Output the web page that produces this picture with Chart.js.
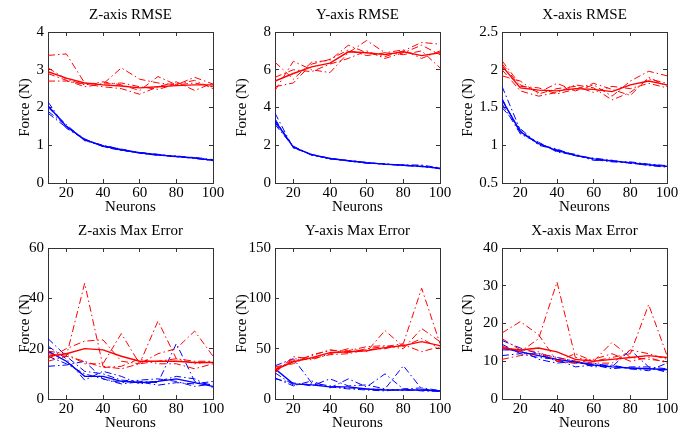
<!DOCTYPE html>
<html>
<head>
<meta charset="utf-8">
<script src="https://cdn.jsdelivr.net/npm/chart.js@4"></script>
<style>
  body { margin: 0; background: #fff; width: 690px; height: 432px; position: relative; overflow: hidden; }
  canvas { position: absolute; }
</style>
</head>
<body>
<script>
// x values and ticks shared by every panel
const neurons = [10, 20, 30, 40, 50, 60, 70, 80, 90, 100];
const xTicks = [20, 40, 60, 80, 100];

// Z-axis RMSE (first row of each set is the solid line, rest dash-dot)
const zRmseTicks = [0, 1, 2, 3, 4];
const zRmseRed = [
  [2.95, 2.78, 2.65, 2.6, 2.57, 2.52, 2.55, 2.58, 2.6, 2.6],
  [3.38, 3.42, 2.65, 2.62, 3.05, 2.75, 2.65, 2.6, 2.8, 2.62],
  [3.05, 2.75, 2.6, 2.68, 2.6, 2.45, 2.82, 2.6, 2.65, 2.55],
  [2.7, 2.7, 2.62, 2.55, 2.5, 2.35, 2.55, 2.68, 2.45, 2.65],
  [2.9, 2.72, 2.55, 2.62, 2.65, 2.55, 2.48, 2.62, 2.72, 2.5]
];
const zRmseBlue = [
  [2.05, 1.5, 1.15, 0.98, 0.88, 0.8, 0.75, 0.7, 0.66, 0.6],
  [2.15, 1.45, 1.15, 0.97, 0.87, 0.79, 0.74, 0.71, 0.67, 0.6],
  [1.9, 1.52, 1.13, 1.0, 0.89, 0.8, 0.74, 0.69, 0.68, 0.62],
  [1.85, 1.47, 1.17, 0.96, 0.86, 0.81, 0.76, 0.7, 0.65, 0.59],
  [2.0, 1.55, 1.12, 0.99, 0.9, 0.79, 0.73, 0.72, 0.66, 0.61]
];

// Y-axis RMSE
const yRmseTicks = [0, 2, 4, 6, 8];
const yRmseRed = [
  [5.4, 5.8, 6.15, 6.35, 6.95, 6.9, 6.8, 6.95, 6.75, 6.9],
  [6.4, 5.5, 6.4, 6.5, 7.3, 6.9, 6.7, 7.0, 7.45, 7.35],
  [4.9, 6.45, 6.0, 5.85, 6.9, 7.55, 6.9, 6.8, 7.0, 6.1],
  [5.1, 5.3, 6.3, 6.55, 7.05, 6.75, 6.9, 7.05, 6.6, 7.0],
  [5.6, 6.0, 5.9, 6.3, 6.6, 7.0, 6.6, 6.9, 7.3, 6.8]
];
const yRmseBlue = [
  [3.3, 1.9, 1.5, 1.3, 1.18, 1.07, 1.0, 0.94, 0.88, 0.78],
  [3.7, 1.85, 1.52, 1.28, 1.2, 1.08, 0.98, 0.96, 0.95, 0.8],
  [3.2, 1.95, 1.48, 1.32, 1.16, 1.06, 1.01, 0.92, 0.9, 0.76],
  [3.4, 1.88, 1.5, 1.27, 1.19, 1.09, 0.99, 0.95, 0.86, 0.79],
  [3.1, 1.92, 1.47, 1.3, 1.17, 1.05, 1.02, 0.93, 0.89, 0.75]
];

// X-axis RMSE
const xRmseTicks = [0.5, 1, 1.5, 2, 2.5];
const xRmseRed = [
  [2.05, 1.76, 1.73, 1.72, 1.75, 1.74, 1.71, 1.8, 1.85, 1.8],
  [2.12, 1.8, 1.7, 1.82, 1.72, 1.8, 1.65, 1.85, 1.98, 1.92],
  [1.92, 1.85, 1.68, 1.75, 1.78, 1.7, 1.78, 1.75, 1.82, 1.76],
  [2.0, 1.72, 1.65, 1.7, 1.8, 1.76, 1.6, 1.7, 1.88, 1.82],
  [2.08, 1.78, 1.76, 1.68, 1.74, 1.82, 1.74, 1.66, 1.9, 1.78]
];
const xRmseBlue = [
  [1.6, 1.18, 1.02, 0.93, 0.87, 0.82, 0.79, 0.77, 0.74, 0.72],
  [1.78, 1.2, 1.0, 0.94, 0.86, 0.83, 0.8, 0.76, 0.75, 0.72],
  [1.55, 1.15, 1.03, 0.92, 0.88, 0.81, 0.78, 0.77, 0.73, 0.71],
  [1.5, 1.22, 1.01, 0.95, 0.86, 0.82, 0.79, 0.78, 0.75, 0.73],
  [1.62, 1.16, 1.04, 0.91, 0.87, 0.8, 0.8, 0.76, 0.74, 0.72]
];

// Z-axis Max Error
const zMaxTicks = [0, 20, 40, 60];
const zMaxRed = [
  [17, 18, 20, 19.5, 17, 15, 15, 15, 14.5, 14.5],
  [18, 17, 46, 13, 12, 14, 15, 16, 15, 15],
  [16, 20, 23, 23.5, 15, 14, 31, 16, 14, 15],
  [19, 18, 14, 14, 26, 14, 18, 20, 27, 17],
  [15, 17, 15, 12.5, 13, 16, 14, 14, 12, 14]
];
const zMaxBlue = [
  [19, 15, 9, 9, 7, 6.5, 7, 8, 6.5, 5],
  [24, 17, 11, 10, 7.5, 7, 6.5, 22, 7, 5.5],
  [13, 13.5, 15, 8, 6.5, 7.5, 8, 7, 5, 6],
  [21, 16, 7.5, 11, 9, 6, 7, 9, 8, 4.5],
  [17, 14, 10, 8, 6, 6.8, 5.5, 6.5, 6, 7]
];

// Y-axis Max Error
const yMaxTicks = [0, 50, 100, 150];
const yMaxRed = [
  [29, 37, 41, 46, 47, 48, 51, 53, 57, 53],
  [30, 38, 43, 49, 46, 50, 52, 55, 110, 55],
  [27, 40, 39, 45, 50, 47, 68, 52, 60, 50],
  [32, 35, 44, 48, 48, 52, 53, 50, 70, 57],
  [26, 42, 40, 44, 45, 49, 50, 54, 47, 52]
];
const yMaxBlue = [
  [30, 15, 14, 12, 12, 10, 9, 9, 9, 8],
  [33, 40, 16, 13, 11, 10, 9.5, 8.5, 9, 8],
  [21, 13, 18, 11, 20, 12, 25, 10, 8, 7.5],
  [20, 16, 13, 20, 13, 14, 10, 33, 10, 8],
  [26, 14, 15, 12, 10, 9, 8, 10, 11, 8.5]
];

// X-axis Max Error
const xMaxTicks = [0, 10, 20, 30, 40];
const xMaxRed = [
  [13.5, 13, 13.5, 12.5, 10.5, 10, 10.5, 11, 11.5, 11],
  [14, 12.5, 16, 31, 11, 10, 11, 12, 25, 11.5],
  [17.5, 20.5, 17, 10, 12, 10, 15, 11, 10.5, 10],
  [10.5, 11.5, 12, 11, 10, 9.5, 9.5, 13, 12, 10.5],
  [16, 13, 12.5, 10, 9.5, 10.5, 12, 10, 11, 9.5]
];
const xMaxBlue = [
  [13.5, 12.5, 11.5, 10.5, 9.8, 9, 8.5, 8.2, 8, 7.8],
  [15.5, 13.5, 12, 10, 9.5, 9.5, 8.5, 13, 8.5, 8],
  [11.5, 12, 11, 10.5, 8.5, 9, 9, 8, 7.5, 9.5],
  [14.5, 12, 12, 11, 10, 9, 8, 8.5, 8.5, 7],
  [13, 13, 10.5, 9.5, 10, 8.5, 8.8, 8, 8, 7.5]
];

const panels = [
  { title: 'Z-axis RMSE', red: zRmseRed, blue: zRmseBlue, yTicks: zRmseTicks, left: 48, top: 32, yPad: 16 },
  { title: 'Y-axis RMSE', red: yRmseRed, blue: yRmseBlue, yTicks: yRmseTicks, left: 275, top: 32, yPad: 6 },
  { title: 'X-axis RMSE', red: xRmseRed, blue: xRmseBlue, yTicks: xRmseTicks, left: 502, top: 32, yPad: 5 },
  { title: 'Z-axis Max Error', red: zMaxRed, blue: zMaxBlue, yTicks: zMaxTicks, left: 48, top: 248, yPad: 16 },
  { title: 'Y-axis Max Error', red: yMaxRed, blue: yMaxBlue, yTicks: yMaxTicks, left: 275, top: 248, yPad: 6 },
  { title: 'X-axis Max Error', red: xMaxRed, blue: xMaxBlue, yTicks: xMaxTicks, left: 502, top: 248, yPad: 5 }
];

// the canvas is symmetric around the plot so the title lands over its middle
const AXIS_W = 48, AXIS_H = 35, PLOT_W = 165, PLOT_H = 151;
const FONT = { family: '"Liberation Serif", "Times New Roman", serif', size: 15, weight: 'normal' };
const INK = '#000';

const fixTicks = list => scale => { scale.ticks = list.map(v => ({ value: v })); };

const lineSet = (vals, color, i) => ({
  data: vals.map((y, k) => ({ x: neurons[k], y: y })),
  borderColor: color,
  borderWidth: i === 0 ? 1.4 : 1,
  borderDash: i === 0 ? [] : [7, 3, 1.5, 3],
  pointRadius: 0,
  fill: false,
  tension: 0
});

const frameGrid = { drawOnChartArea: false, drawTicks: true, tickLength: -4, color: '#333' };
const frameBorder = { display: true, color: '#333', width: 1 };

panels.forEach(p => {
  const canvas = document.createElement('canvas');
  canvas.width = AXIS_W * 2 + PLOT_W;
  canvas.height = AXIS_H * 2 + PLOT_H;
  canvas.style.left = (p.left - AXIS_W) + 'px';
  canvas.style.top = (p.top - AXIS_H) + 'px';
  document.body.appendChild(canvas);

  const yMin = p.yTicks[0], yMax = p.yTicks[p.yTicks.length - 1];
  const datasets = [
    ...p.red.map((v, i) => lineSet(v, '#ff0000', i)),
    ...p.blue.map((v, i) => lineSet(v, '#0000ff', i))
  ];

  new Chart(canvas, {
    type: 'line',
    data: { datasets },
    options: {
      responsive: false,
      animation: false,
      layout: { padding: 0 },
      plugins: {
        legend: { display: false },
        tooltip: { enabled: false },
        title: { display: true, text: p.title, font: FONT, color: INK, padding: { top: 9, bottom: 8 } }
      },
      scales: {
        x: {
          type: 'linear', position: 'bottom', min: 10, max: 100,
          afterBuildTicks: fixTicks(xTicks),
          afterFit: s => { s.height = AXIS_H; },
          grid: frameGrid, border: frameBorder,
          ticks: { padding: 5, font: FONT, color: INK, maxRotation: 0, autoSkip: false },
          title: { display: true, text: 'Neurons', font: FONT, color: INK, padding: { top: 0, bottom: 1.5 } }
        },
        x2: {
          type: 'linear', position: 'top', min: 10, max: 100,
          afterBuildTicks: fixTicks(xTicks),
          afterFit: s => { s.height = 0; },
          grid: frameGrid, border: frameBorder,
          ticks: { display: false }
        },
        y: {
          type: 'linear', position: 'left', min: yMin, max: yMax,
          afterBuildTicks: fixTicks(p.yTicks),
          afterFit: s => { s.width = AXIS_W; },
          grid: frameGrid, border: frameBorder,
          ticks: { padding: 8, font: FONT, color: INK, callback: v => String(v) },
          title: { display: true, text: 'Force (N)', font: FONT, color: INK, padding: { top: p.yPad, bottom: 0 } }
        },
        y2: {
          type: 'linear', position: 'right', min: yMin, max: yMax,
          afterBuildTicks: fixTicks(p.yTicks),
          afterFit: s => { s.width = AXIS_W; },
          grid: frameGrid, border: frameBorder,
          ticks: { display: false }
        }
      }
    }
  });
});
</script>
</body>
</html>
